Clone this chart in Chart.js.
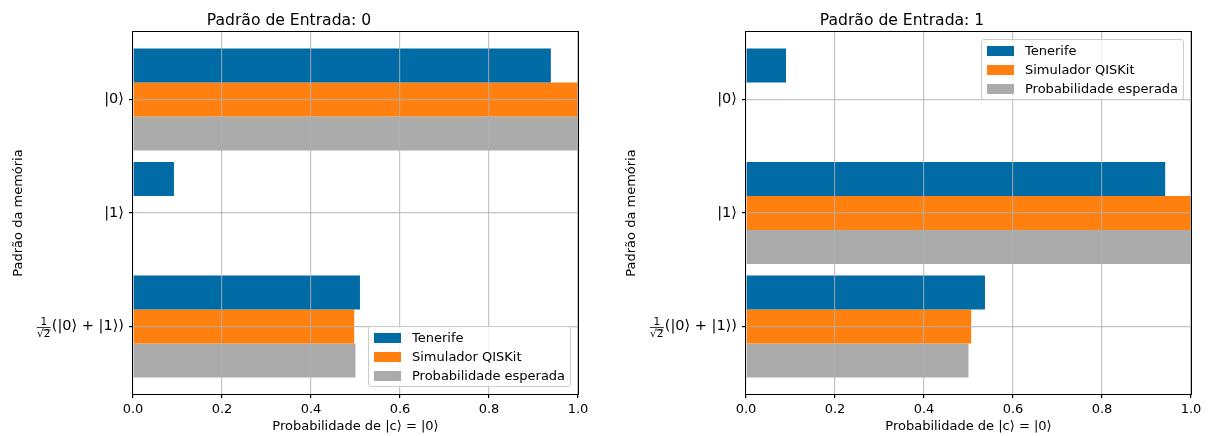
<!DOCTYPE html>
<html>
<head>
<meta charset="utf-8">
<script src="https://cdn.jsdelivr.net/npm/chart.js@4.4.0/dist/chart.umd.min.js"></script>
<style>
  body { margin: 0; background: #fff; width: 1209px; height: 436px; position: relative; overflow: hidden; font-family: 'DejaVu Sans'; }
  canvas { position: absolute; top: 0; }
  .legend { position: absolute; background: rgba(255,255,255,0.8); border: 1px solid #cccccc; border-radius: 3px; padding: 1px 5px; font: 13px 'DejaVu Sans'; color: #000; white-space: nowrap; }
  .legend .row { height: 19px; display: flex; align-items: center; }
  .legend .patch { width: 27px; height: 10px; margin-right: 11px; }
</style>
</head>
<body>
<canvas id="chart0" width="604" height="436" style="left:0"></canvas>
<canvas id="chart1" width="596" height="436" style="left:613px"></canvas>
<script>
// categories (y axis); the 1/sqrt2 prefix of the last one is drawn as a fraction
const categories = ['|0⟩', '|1⟩', '(|0⟩ + |1⟩)'];
const fractionParts = ['1', '√2'];
const seriesNames = ['Tenerife', 'Simulador QISKit', 'Probabilidade esperada'];
const seriesColors = ['#006BA4', '#FF800E', '#ABABAB'];
const titles = ['Padrão de Entrada: 0', 'Padrão de Entrada: 1'];
const xTicks = [0, 0.2, 0.4, 0.6, 0.8, 1.0];

// input pattern 0
const tenerife0 = [0.939, 0.092, 0.510];
const simulador0 = [1.0, 0, 0.497];
const esperada0 = [1.0, 0, 0.5];
// input pattern 1
const tenerife1 = [0.090, 0.942, 0.537];
const simulador1 = [0, 1.0, 0.506];
const esperada1 = [0, 1.0, 0.5];

Chart.defaults.font.family = 'DejaVu Sans';
Chart.defaults.color = '#000';

const gridColor = 'rgba(176,176,176,0.75)';

const frame = {
  id: 'frame',
  afterDraw(chart) {
    const a = chart.chartArea, ctx = chart.ctx;
    ctx.save();
    ctx.strokeStyle = '#000';
    ctx.lineWidth = 1;
    ctx.strokeRect(Math.round(a.left) - 0.5, Math.round(a.top) - 0.5, Math.round(a.right - a.left) + 1, Math.round(a.bottom - a.top) + 1);
    ctx.restore();
  }
};

const fraction = {
  id: 'fraction',
  afterDraw(chart) {
    const y = chart.scales.y, ctx = chart.ctx;
    const py = y.getPixelForValue(2);
    ctx.save();
    ctx.font = '14.5px "DejaVu Sans"';
    const w = ctx.measureText(categories[2]).width;
    const right = y.right - 4 - 5 - w - 1;
    const left = right - 14;
    const cx = (left + right) / 2;
    ctx.strokeStyle = '#000';
    ctx.lineWidth = 0.8;
    ctx.beginPath();
    ctx.moveTo(left, py + 1);
    ctx.lineTo(right, py + 1);
    ctx.stroke();
    ctx.fillStyle = '#000';
    ctx.textAlign = 'center';
    ctx.textBaseline = 'alphabetic';
    ctx.font = '10.5px "DejaVu Sans"';
    ctx.fillText(fractionParts[0], cx, py - 1);
    ctx.fillText(fractionParts[1], cx, py + 11);
    const sw = ctx.measureText(fractionParts[1]).width;
    ctx.beginPath();
    ctx.moveTo(cx - sw / 2 + 6, py + 3.5);
    ctx.lineTo(cx + sw / 2, py + 3.5);
    ctx.stroke();
    ctx.restore();
  }
};

function addLegend(chart, canvasLeft, corner) {
  const box = document.createElement('div');
  box.className = 'legend';
  seriesNames.forEach((name, i) => {
    const row = document.createElement('div');
    row.className = 'row';
    const patch = document.createElement('span');
    patch.className = 'patch';
    patch.style.background = seriesColors[i];
    const label = document.createElement('span');
    label.textContent = name;
    row.appendChild(patch);
    row.appendChild(label);
    box.appendChild(row);
  });
  document.body.appendChild(box);
  const a = chart.chartArea;
  box.style.left = (canvasLeft + a.right - 7 - box.offsetWidth) + 'px';
  if (corner === 'top') box.style.top = (a.top + 7) + 'px';
  else box.style.top = (a.bottom - 7 - box.offsetHeight) + 'px';
}

function createBars(id, title, series, padRight) {
  const ctx = document.getElementById(id);
  return new Chart(ctx, {
    type: 'bar',
    data: {
      datasets: series.map((values, i) => ({
        label: seriesNames[i],
        data: values.map((v, j) => ({ x: v, y: j })),
        backgroundColor: seriesColors[i],
        borderWidth: 0,
        categoryPercentage: 0.9,
        barPercentage: 1.0
      }))
    },
    options: {
      indexAxis: 'y',
      responsive: false,
      animation: false,
      layout: { padding: { left: 0, right: padRight, top: 0, bottom: 0 } },
      plugins: {
        legend: { display: false },
        tooltip: { enabled: false },
        title: { display: true, text: title, font: { size: 15.6, weight: 'normal' }, color: '#000', padding: { top: 11.3, bottom: 2 } }
      },
      scales: {
        x: {
          type: 'linear', min: 0, max: 1,
          afterBuildTicks: axis => { axis.ticks = xTicks.map(v => ({ value: v })); },
          afterFit: axis => { axis.height = 42; },
          ticks: { font: { size: 13 }, color: '#000', padding: 4, callback: v => v.toFixed(1), maxRotation: 0 },
          grid: { color: gridColor, lineWidth: 1.2, tickColor: '#000', tickLength: 4, z: 1 },
          border: { display: false },
          title: { display: true, text: 'Probabilidade de |c⟩ = |0⟩', font: { size: 13 }, color: '#000', padding: { top: 0, bottom: 1.5 } }
        },
        y: {
          type: 'linear', min: -0.595, max: 2.595, reverse: true, offset: false,
          afterBuildTicks: axis => { axis.ticks = [0, 1, 2].map(v => ({ value: v })); },
          afterFit: axis => { axis.width = 133; },
          ticks: { font: { size: 14.5 }, color: '#000', padding: 5, callback: v => categories[v] },
          grid: { color: gridColor, lineWidth: 1.2, tickColor: '#000', tickLength: 4, z: 1, offset: false },
          border: { display: false },
          title: { display: true, text: 'Padrão da memória', font: { size: 13 }, color: '#000', padding: { top: 11, bottom: 0 } }
        }
      }
    },
    plugins: [frame, fraction]
  });
}

const chart0 = createBars('chart0', titles[0], [tenerife0, simulador0, esperada0], 26);
const chart1 = createBars('chart1', titles[1], [tenerife1, simulador1, esperada1], 18);
addLegend(chart0, 0, 'bottom');
addLegend(chart1, 613, 'top');
</script>
</body>
</html>
